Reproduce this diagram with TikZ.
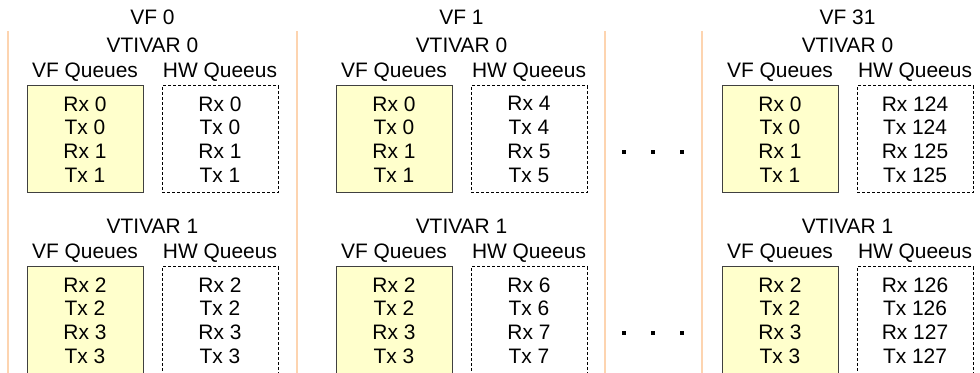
\documentclass[tikz,border=0pt]{standalone}
\usepackage{fontspec}
\setmainfont{Liberation Sans}
\definecolor{vfyellow}{RGB}{255, 255, 204}
\definecolor{sepline}{RGB}{253, 212, 176}
\usetikzlibrary{positioning}

\begin{document}
\begin{tikzpicture}[
    x=0.75pt, y=-0.75pt,
    every node/.style={font=\fontsize{15.7}{17.8}\selectfont, align=center, inner sep=0pt},
    title/.style={anchor=base},
    vfq/.style={draw=black!75, line width=0.75pt, fill=vfyellow, minimum width=87pt, minimum height=80.25pt},
    hwq/.style={draw, line width=0.75pt, dash pattern=on 2.25pt off 1.5pt, minimum width=87pt, minimum height=80.25pt},
    dotmark/.style={fill=black, minimum size=3pt},
    sep/.style={draw=sepline, line width=1pt}
  ]
  \useasboundingbox (0,0) rectangle (980,373);

  % column separators
  \foreach \x in {8, 297, 605, 702}
    \draw[sep] (\x,31) -- (\x,373);

  % VF columns
  \foreach \c/\off/\vf/\hw in {0/0/0/0, 1/309/1/4, 2/695/31/124} {
    \node[title] (vf\c) at (152.5+\off,25) {VF \vf};
    \foreach \r in {0,1} {
      \pgfmathsetmacro\dy{181*\r}
      \pgfmathtruncatemacro\qa{2*\r}
      \pgfmathtruncatemacro\qb{2*\r+1}
      \pgfmathtruncatemacro\ha{\hw+2*\r}
      \pgfmathtruncatemacro\hb{\hw+2*\r+1}
      \node[title] (var\c\r) at (152.5+\off,52.3+\dy) {VTIVAR \r};
      \node[title] (vfl\c\r) at (85+\off,78+\dy) {VF Queues};
      \node[title] (hwl\c\r) at (220+\off,78+\dy) {HW Queeus};
      \node[vfq] (vfq\c\r) at (85+\off,139.5+\dy) {Rx \qa\\Tx \qa\\Rx \qb\\Tx \qb};
      \node[hwq] (hwq\c\r) at (220+\off,139.5+\dy) {Rx \ha\\Tx \ha\\Rx \hb\\Tx \hb};
    }
  }

  % ellipsis dots
  \foreach \x in {624, 653, 682}
    \foreach \y in {152, 333}
      \node[dotmark] (d\x\y) at (\x,\y) {};
\end{tikzpicture}
\end{document}
